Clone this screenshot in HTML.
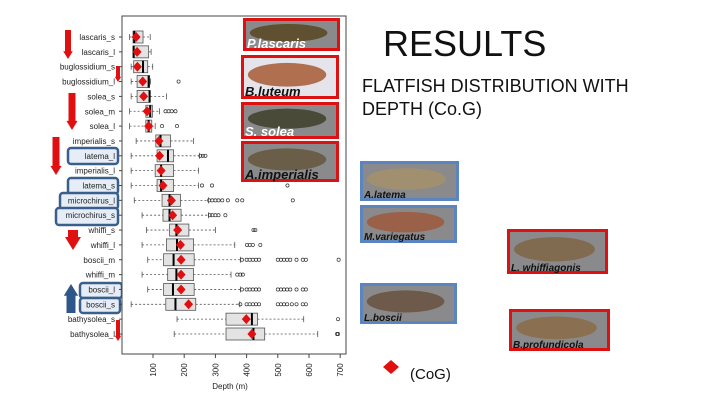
<!DOCTYPE html>
<html><head><meta charset="utf-8"><style>
body{margin:0;background:#fff;width:720px;height:405px;overflow:hidden;font-family:"Liberation Sans",sans-serif}
svg{position:absolute;left:0;top:0}
</style></head><body>
<svg id="s" width="720" height="405" xmlns="http://www.w3.org/2000/svg"></svg>
<script>
const categories=["lascaris_s","lascaris_l","buglossidium_s","buglossidium_l","solea_s","solea_m","solea_l","imperialis_s","latema_l","imperialis_l","latema_s","microchirus_l","microchirus_s","whiffi_s","whiffi_l","boscii_m","whiffi_m","boscii_l","boscii_s","bathysolea_s","bathysolea_l"];
const whiskerLow=[25,36,30,30,30,25,25,46,30,30,30,40,65,79,65,83,65,83,30,177,168];
const q1=[36,36,38,49,49,77,77,109,113,107,113,129,132,153,143,134,147,134,141,334,334];
const medians=[40,38,68,86,89,91,86,124,148,126,126,153,153,175,177,166,175,164,172,417,422];
const q3=[68,86,83,89,91,98,96,156,166,166,166,188,190,215,230,232,230,232,237,435,458];
const whiskerHigh=[91,94,99,92,143,121,107,230,249,246,246,278,278,300,362,380,350,380,378,583,628];
const means=[46,49,50,67,70,81,86,119,121,126,132,159,163,179,188,190,190,190,214,399,417];
const outliers=[[],[],[],[182],[],[140,150,160,172],[129,177],[],[252,260,268],[],[257,289,531],[280,290,300,310,322,340,370,386,548],[282,290,300,310,332],[422,428],[401,410,420,444],[385,400,410,420,430,440,500,510,520,530,540,560,580,590,695],[370,380,388],[385,400,410,420,430,440,500,510,520,530,540,560,580,590],[380,400,410,420,430,440,500,510,520,530,545,560,580,590],[693],[690,693]];
const xTicks=[100,200,300,400,500,600,700];

const S=document.getElementById('s');const NS='http://www.w3.org/2000/svg';
function mk(t,a,p){const e=document.createElementNS(NS,t);for(const k in a)e.setAttribute(k,a[k]);(p||S).appendChild(e);return e;}
const X=v=>153+(v-100)*0.312;
const Y=i=>37+i*14.85;
[[68,148,50,16],[68,178,50,16],[60,193,58,16],[56,208,62,17],[80,283,42,15],[80,298,40,15]].forEach((b,k)=>{
  const r=mk('rect',{x:b[0],y:b[1],width:b[2],height:b[3],rx:3,fill:'#e6edf6',stroke:'#3a5f8c','stroke-width':2.5});
  
});
const frame=mk('rect',{x:122,y:16,width:224,height:338,fill:'#fff',stroke:'#444','stroke-width':1});

categories.forEach((c,i)=>{
  const g=mk('g',{});
  
  const y=Y(i);
  mk('line',{x1:X(whiskerLow[i]),x2:X(q1[i]),y1:y,y2:y,stroke:'#555','stroke-dasharray':'2,2','stroke-width':0.8},g);
  mk('line',{x1:X(q3[i]),x2:X(whiskerHigh[i]),y1:y,y2:y,stroke:'#555','stroke-dasharray':'2,2','stroke-width':0.8},g);
  mk('line',{x1:X(whiskerLow[i]),x2:X(whiskerLow[i]),y1:y-3,y2:y+3,stroke:'#555','stroke-width':0.8},g);
  mk('line',{x1:X(whiskerHigh[i]),x2:X(whiskerHigh[i]),y1:y-3,y2:y+3,stroke:'#555','stroke-width':0.8},g);
  mk('rect',{x:X(q1[i]),y:y-6,width:X(q3[i])-X(q1[i]),height:12,fill:'#e3e3e3',stroke:'#555','stroke-width':0.8},g);
  mk('line',{x1:X(medians[i]),x2:X(medians[i]),y1:y-6,y2:y+6,stroke:'#000','stroke-width':2},g);
  outliers[i].forEach(o=>mk('circle',{cx:X(o),cy:y,r:1.6,fill:'none',stroke:'#333','stroke-width':0.7},g));
  const m=X(means[i]);
  mk('polygon',{points:`${m},${y-5} ${m+4.5},${y} ${m},${y+5} ${m-4.5},${y}`,fill:'#e01010'},g);
  const t=mk('text',{x:115,y:y+3,'text-anchor':'end','font-size':8,fill:'#222'});t.textContent=c;
  
  mk('line',{x1:119,x2:122,y1:y,y2:y,stroke:'#444'});
});
xTicks.forEach(v=>{
  mk('line',{x1:X(v),x2:X(v),y1:354,y2:358,stroke:'#444'});
  const t=mk('text',{x:0,y:0,'font-size':8,fill:'#222','text-anchor':'middle',transform:`translate(${X(v)+3},370) rotate(-90)`});t.textContent=v;
  
});
const xt=mk('text',{x:230,y:389,'font-size':8,'text-anchor':'middle',fill:'#222'});xt.textContent='Depth (m)';


function arrow(x,y1,y2,w,col,up){
  const hw=w*1.6,hh=w*1.3;let p;
  if(!up)p=`${x-w/2},${y1} ${x+w/2},${y1} ${x+w/2},${y2-hh} ${x+hw/2},${y2-hh} ${x},${y2} ${x-hw/2},${y2-hh} ${x-w/2},${y2-hh}`;
  else p=`${x-w/2},${y2} ${x+w/2},${y2} ${x+w/2},${y1+hh} ${x+hw/2},${y1+hh} ${x},${y1} ${x-hw/2},${y1+hh} ${x-w/2},${y1+hh}`;
  const e=mk('polygon',{points:p,fill:col});
}
arrow(68,30,59,6,'#e01010');arrow(118,66,82,4,'#e01010');arrow(72,93,130,7,'#e01010');
arrow(56,137,175,7,'#e01010');arrow(73,230,250,10,'#e01010');arrow(118,320,341,4,'#e01010');
arrow(71,284,313,9,'#2f5688',true);

const photos=[["P.lascaris",243,18,97,33,'#d11'],["B.luteum",241,55,98,44,'#d11'],["S. solea",241,102,98,37,'#d11'],["A.imperialis",241,141,98,41,'#d11'],
["A.latema",360,161,99,40,'#5b85c0'],["M.variegatus",360,205,97,38,'#5b85c0'],["L. whiffiagonis",507,229,101,45,'#d11'],["L.boscii",360,283,97,41,'#5b85c0'],["B.profundicola",509,309,101,42,'#d11']];
const fishCol=['#5e5030','#b07050','#4a4a38','#6a5e48','#a09070','#9a6048','#806a50','#6e5a4a','#8a7050'];
photos.forEach((p,k)=>{
  const g=mk('g',{});
  mk('rect',{x:p[1]+1.5,y:p[2]+1.5,width:p[3]-3,height:p[4]-3,fill:k===1?'#e4e4ea':'#8a8a8c',stroke:p[5],'stroke-width':3},g);
  mk('ellipse',{cx:p[1]+p[3]*0.47,cy:p[2]+p[4]*0.45,rx:p[3]*0.4,ry:p[4]*0.27,fill:fishCol[k]},g);
  const t=mk('text',{x:p[1]+4,y:p[2]+p[4]-3,'font-size':k<4?13:10,'font-style':'italic','font-weight':'bold',fill:k<3?'#fff':'#111'},g);
  if(k==1)t.setAttribute('fill','#111');t.textContent=p[0];
});
const r=mk('text',{x:383,y:56,'font-size':36,fill:'#111'});r.textContent='RESULTS';
const s1=mk('text',{x:362,y:92,'font-size':18,fill:'#111'});s1.textContent='FLATFISH DISTRIBUTION WITH';
const s2=mk('text',{x:362,y:115,'font-size':18,fill:'#111'});s2.textContent='DEPTH (Co.G)';
const ld=mk('polygon',{points:'391,360 399,367 391,374 383,367',fill:'#e01010'});
const lt=mk('text',{x:410,y:379,'font-size':15,fill:'#111'});lt.textContent='(CoG)';
</script>
</body></html>
